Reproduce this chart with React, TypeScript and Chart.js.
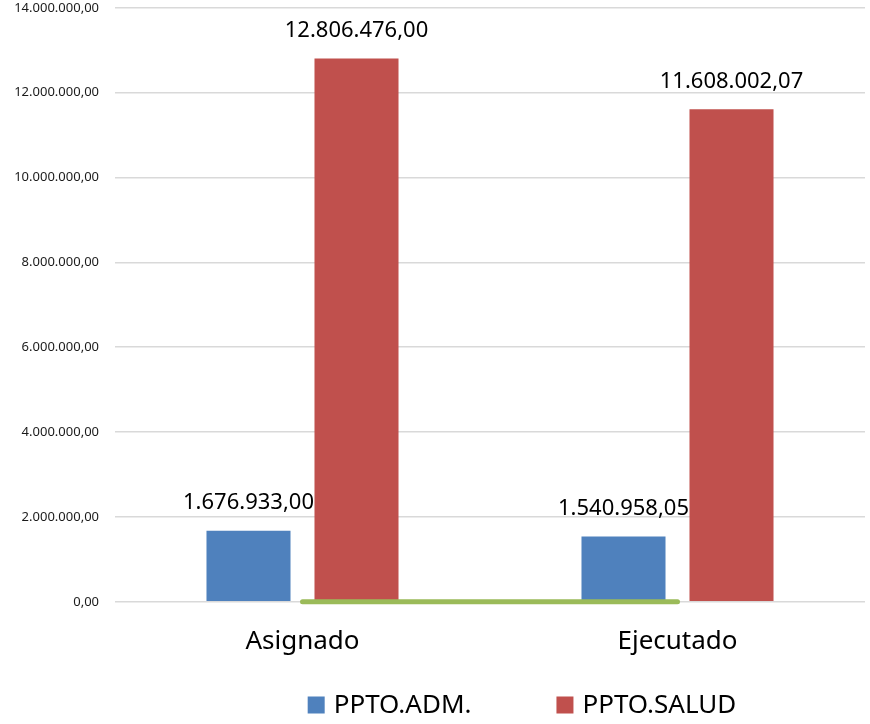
import React, { useEffect, useRef } from "react";
import { Chart, registerables } from "chart.js";

Chart.register(...registerables);

const categories = ["Asignado", "Ejecutado"];
const seriesNames = ["PPTO.ADM.", "PPTO.SALUD"];
const admValues = [1676933.0, 1540958.05];
const saludValues = [12806476.0, 11608002.07];
const baselineValues = [0, 0];
const yMin = 0;
const yMax = 14000000;
const yStep = 2000000;

const colors = {
  adm: "#4F81BD",
  salud: "#C0504D",
  baseline: "#9BBB59",
  grid: "#D9D9D9",
};

const FONT = "'Noto Sans', 'Open Sans', sans-serif";

function fmt(v: number): string {
  const fixed = Math.abs(v).toFixed(2);
  const [intPart, dec] = fixed.split(".");
  const grouped = intPart.replace(/\B(?=(\d{3})+(?!\d))/g, ".");
  return (v < 0 ? "-" : "") + grouped + "," + dec;
}

const valueLabelPlugin = {
  id: "valueLabels",
  afterDatasetsDraw(chart: any) {
    const ctx = chart.ctx;
    ctx.save();
    ctx.font = `22px ${FONT}`;
    ctx.fillStyle = "#000000";
    ctx.textAlign = "center";
    ctx.textBaseline = "middle";
    chart.data.datasets.forEach((ds: any, i: number) => {
      if (ds.type === "line") return;
      const meta = chart.getDatasetMeta(i);
      meta.data.forEach((el: any, j: number) => {
        ctx.fillText(fmt(ds.data[j]), el.x, el.y - 28);
      });
    });
    ctx.restore();
  },
};

const legendPlugin = {
  id: "customLegend",
  afterDraw(chart: any) {
    const ctx = chart.ctx;
    const area = chart.chartArea;
    ctx.save();
    ctx.font = `26px ${FONT}`;
    ctx.textBaseline = "middle";
    ctx.textAlign = "left";
    const box = 17;
    const gap = 9;
    const itemGap = 85;
    const items = [
      { label: seriesNames[0], color: colors.adm },
      { label: seriesNames[1], color: colors.salud },
    ];
    const widths = items.map((it) => box + gap + ctx.measureText(it.label).width);
    const total = widths.reduce((a, b) => a + b, 0) + itemGap * (items.length - 1);
    const centerX = (area.left + area.right) / 2 + 32;
    const cy = chart.height - 19;
    let x = centerX - total / 2;
    items.forEach((it, i) => {
      ctx.fillStyle = it.color;
      ctx.fillRect(x, cy - box / 2, box, box);
      ctx.fillStyle = "#000000";
      ctx.fillText(it.label, x + box + gap, cy + 1);
      x += widths[i] + itemGap;
    });
    ctx.restore();
  },
};

export default function App() {
  const canvasRef = useRef<HTMLCanvasElement | null>(null);

  useEffect(() => {
    if (!canvasRef.current) return;
    const chart = new Chart(canvasRef.current, {
      type: "bar",
      data: {
        labels: categories,
        datasets: [
          {
            type: "line",
            label: "base",
            data: baselineValues,
            borderColor: colors.baseline,
            borderWidth: 5,
            borderCapStyle: "round",
            pointRadius: 0,
            clip: false,
            order: 0,
          } as any,
          {
            type: "bar",
            label: seriesNames[0],
            data: admValues,
            backgroundColor: colors.adm,
            categoryPercentage: 0.576,
            barPercentage: 0.778,
            order: 1,
          },
          {
            type: "bar",
            label: seriesNames[1],
            data: saludValues,
            backgroundColor: colors.salud,
            categoryPercentage: 0.576,
            barPercentage: 0.778,
            order: 1,
          },
        ],
      },
      options: {
        animation: false,
        responsive: true,
        maintainAspectRatio: false,
        layout: { padding: { top: 1, left: 0, right: 5, bottom: 43 } },
        plugins: {
          legend: { display: false },
          tooltip: { enabled: false },
        },
        scales: {
          x: {
            grid: { display: false, drawTicks: false },
            border: { display: false },
            ticks: {
              padding: 24,
              color: "#000000",
              font: { family: FONT, size: 26 },
            },
          },
          y: {
            min: yMin,
            max: yMax,
            afterFit(scale: any) {
              scale.width = 115;
            },
            grid: {
              color: colors.grid,
              lineWidth: 1.5,
              drawTicks: true,
              tickLength: 16,
              tickColor: "rgba(0,0,0,0)",
            },
            border: { display: false },
            ticks: {
              stepSize: yStep,
              padding: 0,
              color: "#1a1a1a",
              font: { family: FONT, size: 13 },
              callback: (v: any) => fmt(Number(v)),
            },
          },
        },
      },
      plugins: [valueLabelPlugin, legendPlugin],
    });
    return () => chart.destroy();
  }, []);

  return (
    <div style={{ position: "absolute", left: 0, top: 0, width: 870, height: 724, background: "#ffffff" }}>
      <canvas ref={canvasRef} />
    </div>
  );
}
